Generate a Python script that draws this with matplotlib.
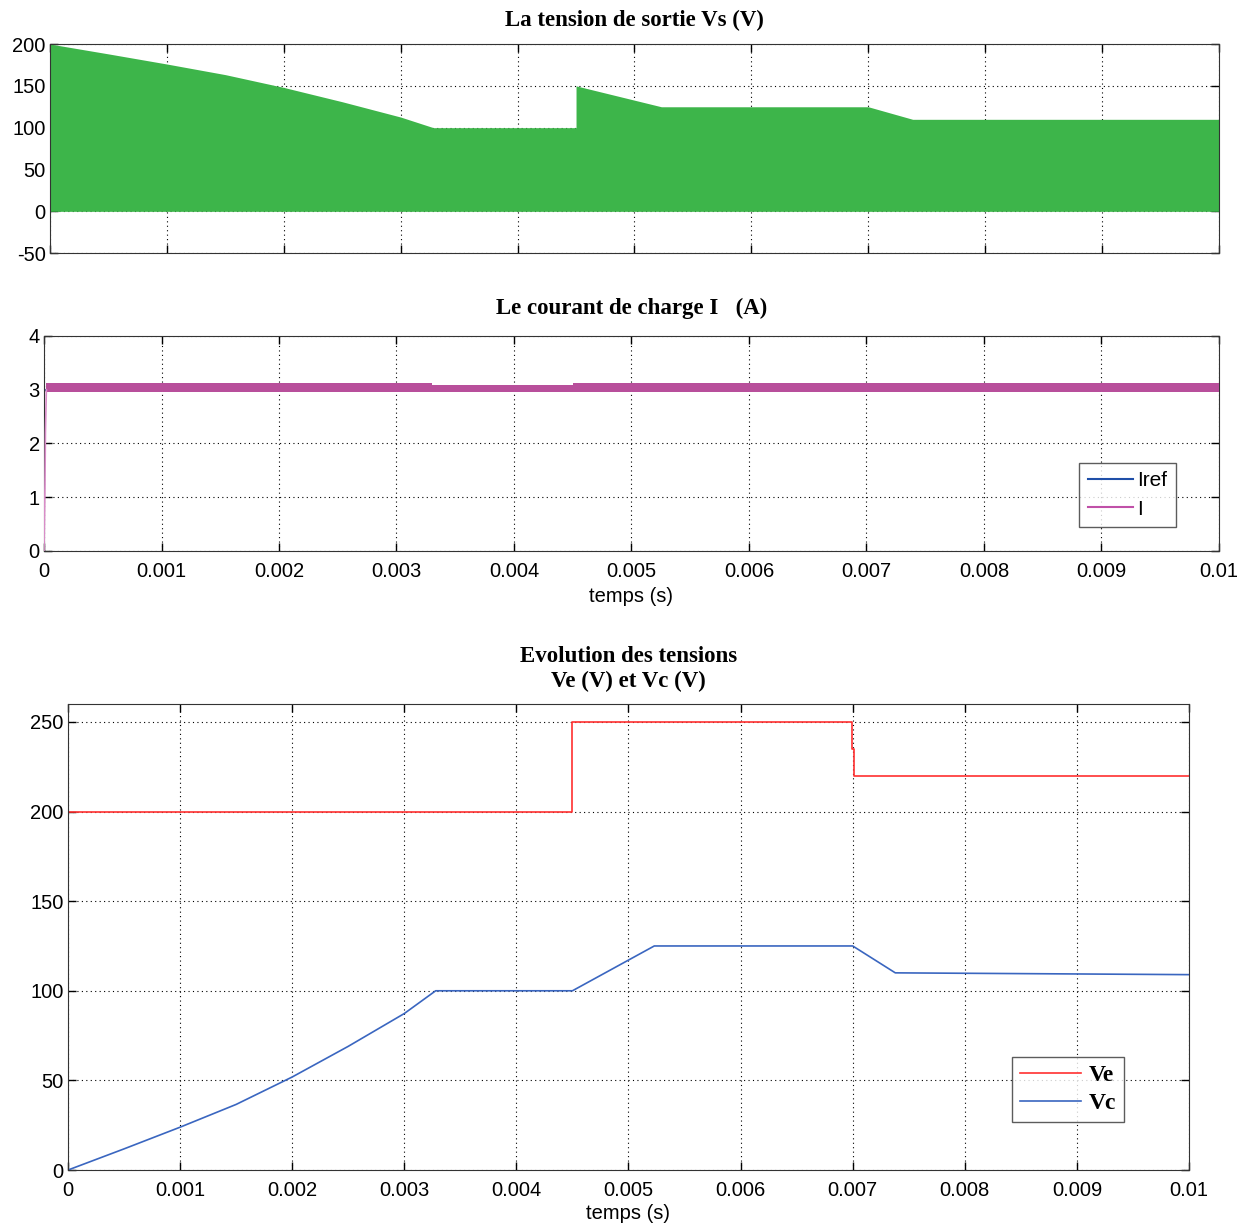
import matplotlib
matplotlib.use("Agg")
import matplotlib.pyplot as plt
import numpy as np

# top: envelope of the output voltage Vs (PWM between 0 and envelope)
t_env = [0, 0.0005, 0.001, 0.0015, 0.002, 0.0025, 0.003, 0.00328, 0.0045, 0.0045, 0.00523, 0.007, 0.00738, 0.01]
vs_env = [200, 188.2, 176.1, 163.4, 148.1, 131, 112.7, 100, 100, 150, 125, 125, 110, 110]

# middle: load current band and reference
t_rise = [0, 0.000008, 0.000012, 0.00002]
i_rise = [0, 1.2, 2.2, 3.0]
t_band = [0.00002, 0.0033, 0.0033, 0.0045, 0.0045, 0.01]
i_hi = [3.12, 3.12, 3.09, 3.09, 3.12, 3.12]
i_lo = [2.96, 2.96, 2.96, 2.96, 2.96, 2.96]
t_iref = [0, 0.01]
iref = [3, 3]

# bottom: Ve and Vc
t_ve = [0, 0.0045, 0.0045, 0.00699, 0.00699, 0.00701, 0.00701, 0.01]
ve = [200, 200, 250, 250, 235, 235, 220, 220]
t_vc = [0, 0.0005, 0.001, 0.0015, 0.002, 0.0025, 0.003, 0.00328, 0.0045, 0.00523, 0.007, 0.00738, 0.01]
vc = [0, 11.8, 23.9, 36.6, 51.9, 69, 87.3, 100, 100, 125, 125, 110, 109]

xticks = np.arange(0, 0.0101, 0.001)
xlabels = ["0", "0.001", "0.002", "0.003", "0.004", "0.005", "0.006", "0.007", "0.008", "0.009", "0.01"]

plt.rcParams["font.family"] = ["Liberation Sans", "DejaVu Sans"]
plt.rcParams["axes.unicode_minus"] = False
TITLE = dict(family="Liberation Serif", fontweight="bold", fontsize=16.5)

fig = plt.figure(figsize=(12.47, 12.23), dpi=100)


def style(ax):
    ax.set_xlim(0, 0.01)
    ax.set_xticks(xticks)
    ax.tick_params(direction="in", top=True, right=True, labelsize=14.5, length=6, width=1)
    ax.tick_params(axis="x", pad=8)
    ax.tick_params(axis="y", pad=3)
    ax.grid(True, linestyle=(0, (1, 3)), color="black", linewidth=0.8)
    ax.set_axisbelow(True)
    for s in ax.spines.values():
        s.set_color("#333333")


# top
ax1 = fig.add_axes([0.0401, 0.793, 0.9374, 0.171])
ax1.fill_between(t_env, 0, vs_env, color="#3db54a", linewidth=0, zorder=2)
ax1.plot([0, 0], [0, 200], color="#3db54a", linewidth=1, zorder=2)
style(ax1)
ax1.set_xticklabels([])
ax1.set_ylim(-50, 200)
ax1.set_yticks([-50, 0, 50, 100, 150, 200])
ax1.set_title("La tension de sortie Vs (V)", pad=13, **TITLE)

# middle
ax2 = fig.add_axes([0.0353, 0.5495, 0.9422, 0.1758])
ax2.plot(t_iref, iref, color="#1f4fa8", linewidth=1.5, label="Iref", zorder=2)
ax2.fill_between(t_band, i_lo, i_hi, color="#b84f9b", linewidth=0, zorder=3)
ax2.plot(t_rise, i_rise, color="#d98cc8", linewidth=1.2, zorder=3)
ax2.plot([], [], color="#c050a8", linewidth=1.5, label="I")
style(ax2)
ax2.set_xticklabels(xlabels)
ax2.set_ylim(0, 4)
ax2.set_yticks([0, 1, 2, 3, 4])
ax2.set_xlabel("temps (s)", fontsize=14.5, labelpad=4)
ax2.set_title("Le courant de charge I   (A)", pad=16, **TITLE)
leg2 = ax2.legend(loc="lower right", bbox_to_anchor=(0.9634, 0.112), borderaxespad=0, fontsize=15,
                  frameon=True, fancybox=False, edgecolor="#333333", handlelength=2.2, borderpad=0.4,
                  handletextpad=0.2, labelspacing=0.45)
leg2.get_frame().set_linewidth(1)

# bottom
ax3 = fig.add_axes([0.0545, 0.0433, 0.899, 0.3811])
ax3.plot(t_ve, ve, color="#ff3030", linewidth=1.2, label="Ve")
ax3.plot(t_vc, vc, color="#3a66c0", linewidth=1.2, label="Vc")
style(ax3)
ax3.set_xticklabels(xlabels)
ax3.set_ylim(0, 260)
ax3.set_yticks([0, 50, 100, 150, 200, 250])
ax3.set_xlabel("temps (s)", fontsize=14.5, labelpad=3)
ax3.set_title("Evolution des tensions\nVe (V) et Vc (V)", pad=12, linespacing=1.25, **TITLE)
leg3 = ax3.legend(loc="lower right", bbox_to_anchor=(0.942, 0.103), borderaxespad=0, frameon=True,
                  fancybox=False, edgecolor="#333333", handlelength=2.6, borderpad=0.35,
                  handletextpad=0.3, labelspacing=0.25,
                  prop=dict(family="Liberation Serif", weight="bold", size=17))
leg3.get_frame().set_linewidth(1)

fig.savefig("out.png", dpi=100)
plt.close(fig)
